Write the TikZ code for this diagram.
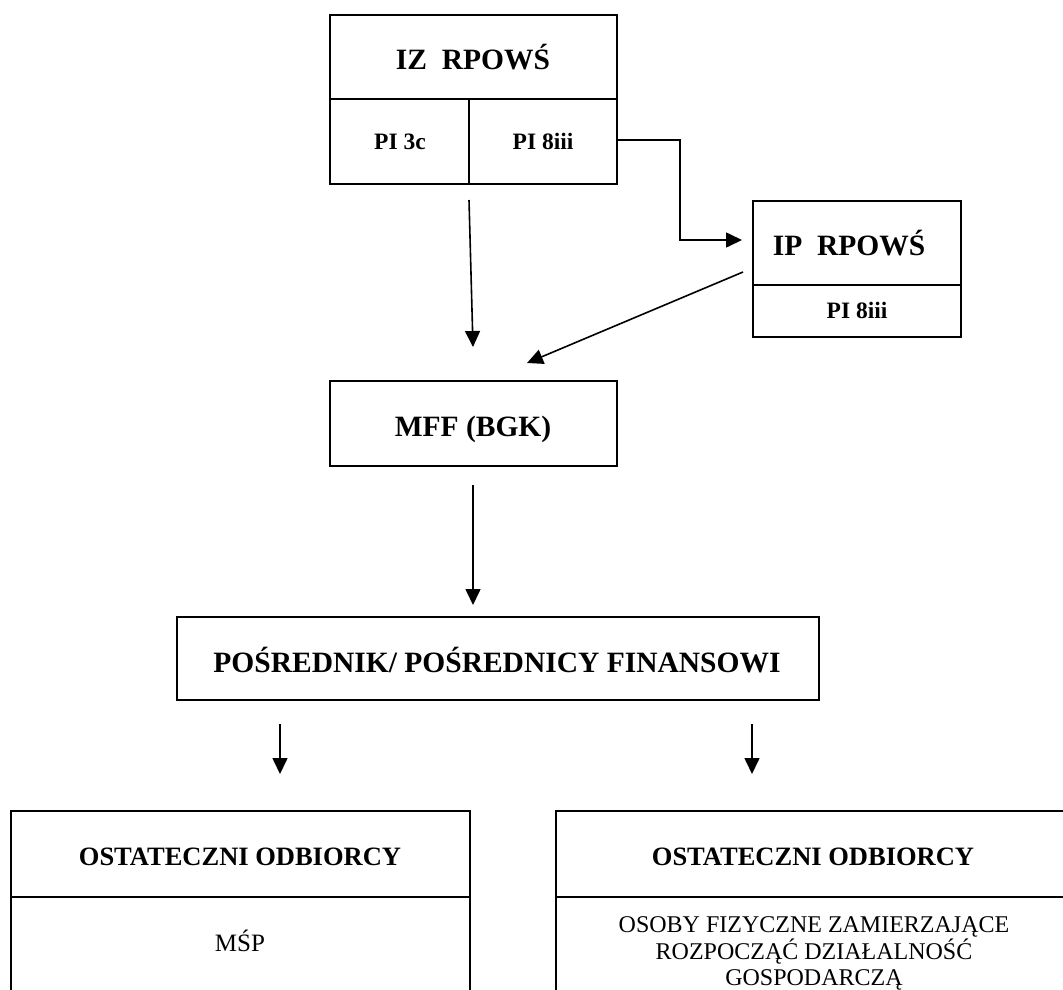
\documentclass[tikz,border=0pt]{standalone}
\usepackage{fontspec}
\setmainfont{Liberation Serif}
\usetikzlibrary{arrows.meta}
\begin{document}
\begin{tikzpicture}[x=1pt,y=-1pt,
  box/.style={draw, line width=2pt, rectangle, inner sep=0pt},
  lbl/.style={inner sep=0pt, anchor=base},
  big/.style={font=\bfseries\fontsize{29.5}{34}\selectfont},
  mid/.style={font=\bfseries\fontsize{23.5}{28}\selectfont},
  hdr/.style={font=\bfseries\fontsize{26.5}{32}\selectfont},
  txt/.style={font=\fontsize{24}{28}\selectfont},
  arr/.style={line width=1.6pt, -{Triangle[length=16pt,width=15pt]}}
]
\useasboundingbox (0,0) rectangle (1063,989);
\clip (0,0) rectangle (1063,989);

% boxes
\node[box, minimum width=287pt, minimum height=84pt] (iz) at (473.5,57) {};
\node[box, minimum width=139pt, minimum height=85pt] (pi3c) at (399.5,141.5) {};
\node[box, minimum width=148pt, minimum height=85pt] (pi8) at (543,141.5) {};
\node[box, minimum width=208pt, minimum height=84pt] (ip) at (857,243) {};
\node[box, minimum width=208pt, minimum height=52pt] (ippi) at (857,311) {};
\node[box, minimum width=287pt, minimum height=85pt] (mff) at (473.5,423.5) {};
\node[box, minimum width=642pt, minimum height=83pt] (pos) at (498,658.5) {};
\node[box, minimum width=459pt, minimum height=86pt] (oL) at (240.5,854) {};
\node[box, minimum width=459pt, minimum height=120pt] (oLb) at (240.5,957) {};
\node[box, minimum width=524pt, minimum height=86pt] (oR) at (818,854) {};
\node[box, minimum width=524pt, minimum height=120pt] (oRb) at (818,957) {};

% labels
\node[lbl, big] (tiz) at (473,69) {IZ\ \ RPOWŚ};
\node[lbl, mid] (tpi3c) at (400,149) {PI 3c};
\node[lbl, mid] (tpi8) at (543,149) {PI 8iii};
\node[lbl, big] (tip) at (849,255) {IP\ \ RPOWŚ};
\node[lbl, mid] (tippi) at (857,318) {PI 8iii};
\node[lbl, big] (tmff) at (473,436) {MFF (BGK)};
\node[lbl, big] (tpos) at (497,672) {POŚREDNIK/ POŚREDNICY FINANSOWI};
\node[lbl, hdr] (toL) at (240,865) {OSTATECZNI ODBIORCY};
\node[lbl, hdr] (toR) at (813,865) {OSTATECZNI ODBIORCY};
\node[lbl, font=\fontsize{25}{28}\selectfont] (tmsp) at (240,951) {MŚP};
\node[lbl, txt] (tos1) at (814,932) {OSOBY FIZYCZNE ZAMIERZAJĄCE};
\node[lbl, txt] (tos2) at (814,959) {ROZPOCZĄĆ DZIAŁALNOŚĆ};
\node[lbl, txt] (tos3) at (814,985) {GOSPODARCZĄ};

% connector coordinates
\coordinate (a1s) at (469,200);
\coordinate (a1e) at (473,347);
\coordinate (b1) at (680,140);
\coordinate (b2) at (680,240);
\coordinate (b3) at (742,240);
\coordinate (c1s) at (743,272);
\coordinate (c1e) at (527,363);
\coordinate (d1s) at (473,485);
\coordinate (d1e) at (473,605);
\coordinate (eLs) at (280,724);
\coordinate (eLe) at (280,774);
\coordinate (eRs) at (752,724);
\coordinate (eRe) at (752,774);

% connectors
\draw[arr] (a1s) -- (a1e);
\draw[arr] (pi8.east |- b1) -- (b1) -- (b2) -- (b3);
\draw[arr] (c1s) -- (c1e);
\draw[arr] (d1s) -- (d1e);
\draw[arr] (eLs) -- (eLe);
\draw[arr] (eRs) -- (eRe);
\end{tikzpicture}
\end{document}
